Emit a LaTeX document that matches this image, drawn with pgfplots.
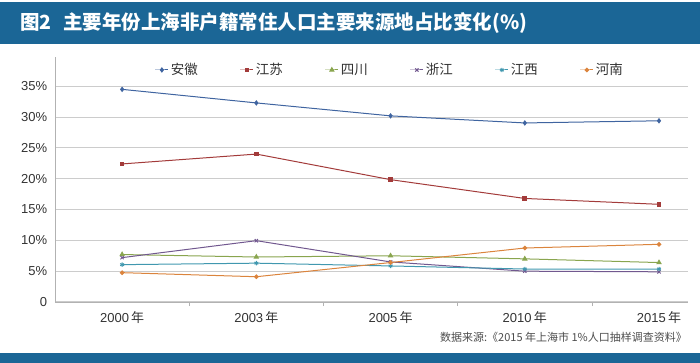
\documentclass[border=0pt]{standalone}
\usepackage{pgfplots}
\pgfplotsset{compat=1.18}
\usepackage{fontspec}
\setmainfont{Liberation Sans}
\newfontfamily\cjk{Noto Sans CJK SC}
\usetikzlibrary{plotmarks}
\definecolor{band}{HTML}{1B6696}
\definecolor{cAH}{HTML}{3F64A0}
\definecolor{cJS}{HTML}{A33B3A}
\definecolor{cSC}{HTML}{89A54E}
\definecolor{cZJ}{HTML}{71588F}
\definecolor{cJX}{HTML}{4198AF}
\definecolor{cHN}{HTML}{DB843D}
\begin{document}
\begin{tikzpicture}[x=1pt,y=1pt]
\path[use as bounding box] (0,0) rectangle (700,-363);
\fill[band] (0,-2) rectangle (700,-44);
\node[anchor=west, text=white, font=\cjk\bfseries\fontsize{19.5}{20}\selectfont, inner sep=0] at (20,-23) {图2\hspace{0.6em}主要年份上海非户籍常住人口主要来源地占比变化(\%)};
\fill[band] (0,-353) rectangle (700,-363);
\node[anchor=east, text=black!70, font=\cjk\fontsize{11}{12}\selectfont, inner sep=0] at (687,-337) {数据来源:《2015 年上海市 1\%人口抽样调查资料》};
\begin{axis}[
  at={(55pt,-302pt)}, anchor=south west,
  scale only axis, width=633pt, height=245pt,
  xmin=-0.5, xmax=4.216, ymin=0, ymax=39.75,
  xtick={0,1,2,3,4},
  xticklabels={{2000\,\cjk 年},{2003\,\cjk 年},{2005\,\cjk 年},{2010\,\cjk 年},{2015\,\cjk 年}},
  major x tick style={draw=none},
  minor xtick={0.5,1.5,2.5,3.5},
  minor x tick style={draw=gray!60, line width=0.8pt},
  minor tick length=4pt,
  tick align=outside,
  ytick={0,5,10,15,20,25,30,35},
  yticklabels={0,5\%,10\%,15\%,20\%,25\%,30\%,35\%},
  major y tick style={draw=none},
  ymajorgrids,
  grid style={gray!40, line width=1.1pt},
  axis x line*=bottom, axis y line*=left,
  axis line style={-, draw=gray!60, line width=0.8pt},
  tick label style={font=\fontsize{13}{13}\selectfont, text=black!80},
  /pgf/number format/assume math mode=true,
  xticklabel style={yshift=-2pt},
  legend style={at={(0.529,0.947)}, anchor=center, draw=none, fill=none,
    font=\cjk\fontsize{13.5}{14}\selectfont, text=black!80,
    /tikz/every even column/.append style={column sep=40pt}},
  legend columns=6,
  legend image code/.code={\draw[mark repeat=2,mark phase=2] plot coordinates {(0pt,0pt) (6.5pt,0pt) (13pt,0pt)};},
  every axis plot/.append style={line width=1pt, mark size=2pt, mark options={solid}},
]
\addplot[color=cAH, mark=diamond*] coordinates {(0,34.5) (1,32.3) (2,30.2) (3,29.05) (4,29.4)};
\addlegendentry{安徽}
\addplot[color=cJS, mark=square*, mark size=1.8pt] coordinates {(0,22.4) (1,24.0) (2,19.85) (3,16.8) (4,15.85)};
\addlegendentry{江苏}
\addplot[color=cSC, mark=triangle*, mark size=2.3pt] coordinates {(0,7.7) (1,7.3) (2,7.5) (3,7.0) (4,6.4)};
\addlegendentry{四川}
\addplot[color=cZJ, mark=x, mark size=2.3pt] coordinates {(0,7.2) (1,9.95) (2,6.5) (3,5.0) (4,4.9)};
\addlegendentry{浙江}
\addplot[color=cJX, mark=asterisk, mark size=2.2pt] coordinates {(0,6.06) (1,6.3) (2,5.85) (3,5.35) (4,5.35)};
\addlegendentry{江西}
\addplot[color=cHN, mark=*, mark size=1.8pt] coordinates {(0,4.76) (1,4.1) (2,6.4) (3,8.76) (4,9.36)};
\addlegendentry{河南}
\end{axis}
\end{tikzpicture}
\end{document}
